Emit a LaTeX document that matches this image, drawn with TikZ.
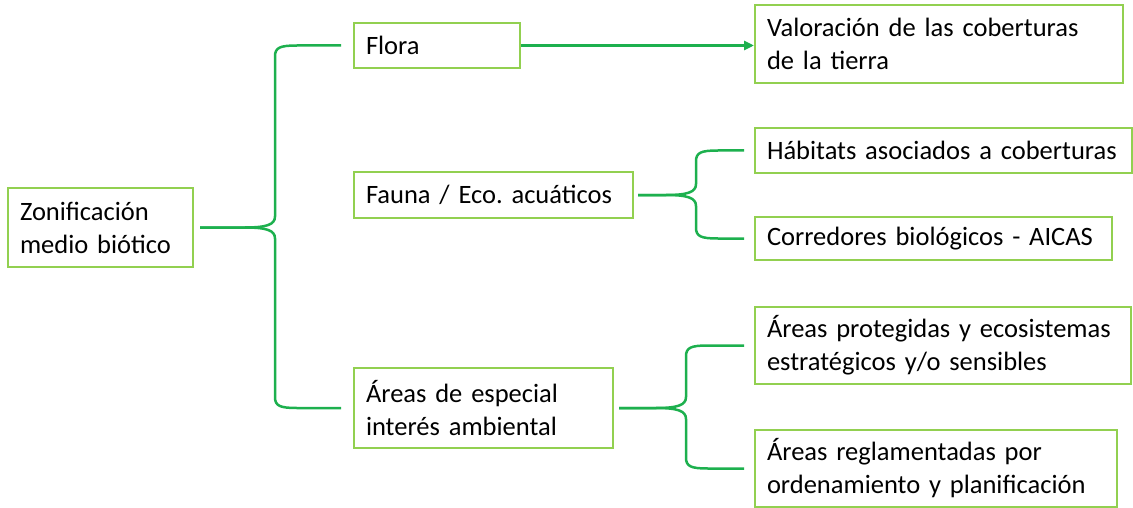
\documentclass[tikz,border=0pt]{standalone}
\usepackage{fontspec}
\setmainfont{Carlito}
\usepackage{xcolor}
\usepackage{tikz}
\usetikzlibrary{calc}
\usetikzlibrary{arrows.meta}
\definecolor{boxgreen}{HTML}{92D050}
\definecolor{linegreen}{HTML}{1DB04E}
\tikzset{ item_box/.style = {rectangle, draw=boxgreen, line width=2pt, align=left, inner xsep=12pt, inner ysep=0pt, font=\fontsize{26.5}{33}\selectfont\frenchspacing} }
\tikzset{ brace_line/.style = {draw=linegreen, line width=2.5pt} }
\tikzset{ half_brace/.style = {to path={let \p1=(\tikztostart), \p2=(\tikztotarget), \n1={sign(\y2-\y1)} in
    -- (\x2-#1pt-30pt,\y1) .. controls (\x2-#1pt-8pt,\y1) and (\x2-#1pt,\y1+3pt*\n1) .. (\x2-#1pt,\y1+11pt*\n1)
    -- (\x2-#1pt,\y2-11pt*\n1) .. controls (\x2-#1pt,\y2-2pt*\n1) and (\x2-#1pt+5pt,\y2) .. (\x2-#1pt+22pt,\y2)
    -- (\tikztotarget)}} }

\begin{document}
\begin{tikzpicture}[x=1pt,y=-1pt]
    \useasboundingbox (0,0) rectangle (1133,508);
            \node [style=item_box, text width=161pt, minimum height=79pt] (zon) at (100.5,227.5) {Zonificación\\medio biótico};
            \node [style=item_box, text width=142pt, minimum height=45pt] (flora) at (437,45.5) {Flora};
            \node [style=item_box, text width=255pt, minimum height=46pt] (fauna) at (493.5,195) {Fauna / Eco. acuáticos};
            \node [style=item_box, text width=235pt, minimum height=80pt] (esp) at (483.5,408) {Áreas de especial\\interés ambiental};
            \node [style=item_box, text width=344pt, minimum height=78pt] (val) at (939,44) {Valoración de las coberturas\\de la tierra};
            \node [style=item_box, text width=353pt, minimum height=45pt] (hab) at (943.5,150.5) {Hábitats asociados a coberturas};
            \node [style=item_box, text width=333pt, minimum height=43pt] (cor) at (933.5,238.5) {Corredores biológicos - AICAS};
            \node [style=item_box, text width=352pt, minimum height=77pt] (prot) at (943,345.5) {Áreas protegidas y ecosistemas\\estratégicos y/o sensibles};
            \node [style=item_box, text width=338pt, minimum height=77pt] (regl) at (936,468.5) {Áreas reglamentadas por\\ordenamiento y planificación};
            \draw [style=brace_line, shorten <=6pt, shorten >=12pt] (zon.east) to[half_brace=78] (flora.west);
            \draw [style=brace_line, shorten <=6pt, shorten >=12pt] (zon.east) to[half_brace=78] (esp.west);
            \draw [style=brace_line, shorten <=4pt, shorten >=10pt] (fauna.east) to[half_brace=58] (hab.west);
            \draw [style=brace_line, shorten <=4pt, shorten >=10pt] (fauna.east) to[half_brace=58] (cor.west);
            \draw [style=brace_line, shorten <=5pt, shorten >=10pt] (esp.east) to[half_brace=68] (prot.west);
            \draw [style=brace_line, shorten <=5pt, shorten >=10pt] (esp.east) to[half_brace=68] (regl.west);
            \draw [draw=linegreen, line width=2.5pt, -{Triangle[length=10pt,width=9pt]}] (flora.east) -- (flora.east -| val.west);
    \end{tikzpicture}
\end{document}
